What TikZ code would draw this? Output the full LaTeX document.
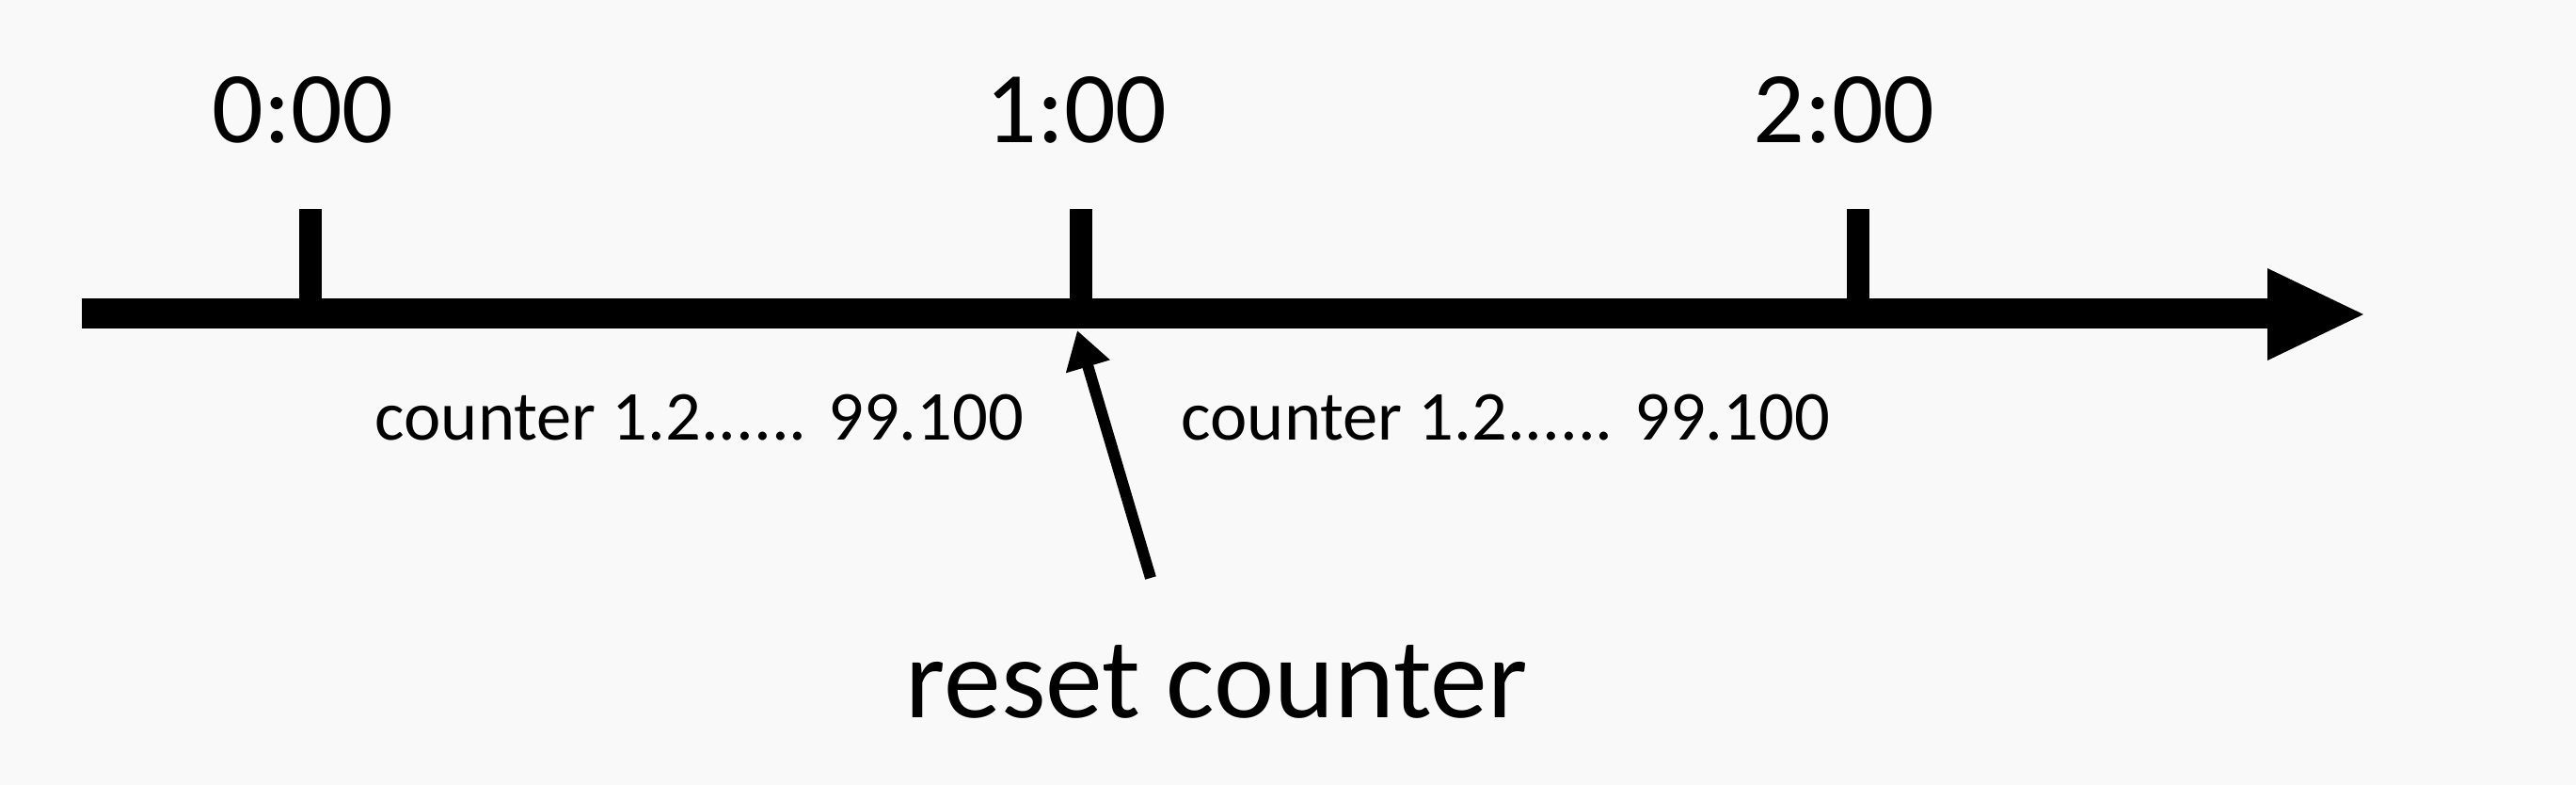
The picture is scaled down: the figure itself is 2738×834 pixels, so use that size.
\documentclass[tikz,border=0pt]{standalone}
\usepackage{fontspec}
\setmainfont{Carlito}
\usetikzlibrary{arrows.meta}
\definecolor{bg}{RGB}{248,249,248}
\begin{document}
\begin{tikzpicture}[x=0.01cm,y=-0.01cm,
  timelabel/.style={font=\fontsize{30.7pt}{36pt}\selectfont, anchor=base, inner sep=0pt},
  countlabel/.style={font=\fontsize{21.2pt}{25pt}\selectfont, anchor=base west, inner sep=0pt},
  resetlabel/.style={font=\fontsize{34.6pt}{40pt}\selectfont, anchor=base west, inner sep=0pt},
  axisline/.style={line width=0.32cm},
  tickmark/.style={line width=0.24cm},
  pointer/.style={line width=0.12cm, -{Triangle[length=0.4cm,width=0.46cm]}}]
\fill[bg] (0,0) rectangle (2738,834);
\useasboundingbox (0,0) rectangle (2738,834);
% axis
\coordinate (astart) at (87,333);
\coordinate (abase) at (2412,333);
\coordinate (aend) at (2512,334);
\draw[axisline] (astart) -- (abase);
\fill (2410,285) -- (aend) -- (2410,383) -- cycle;
% ticks
\coordinate (t0) at (330,333);
\coordinate (t1) at (1149,333);
\coordinate (t2) at (1975,333);
\draw[tickmark] (t0) -- (330,222);
\draw[tickmark] (t1) -- (1149,222);
\draw[tickmark] (t2) -- (1975,222);
% time labels
\node[timelabel] (l0) at (322,152) {0:00};
\node[timelabel] (l1) at (1144,152) {1:00};
\node[timelabel] (l2) at (1960,152) {2:00};
% counters
\node[countlabel] (c1) at (398,468) {counter 1.2...... 99.100};
\node[countlabel] (c2) at (1255,468) {counter 1.2...... 99.100};
% reset
\node[resetlabel] (reset) at (962,763) {reset counter};
\coordinate (rtail) at (1223,614);
\coordinate (rtip) at (1145,351);
\draw[pointer] (rtail) -- (rtip);
\end{tikzpicture}
\end{document}
